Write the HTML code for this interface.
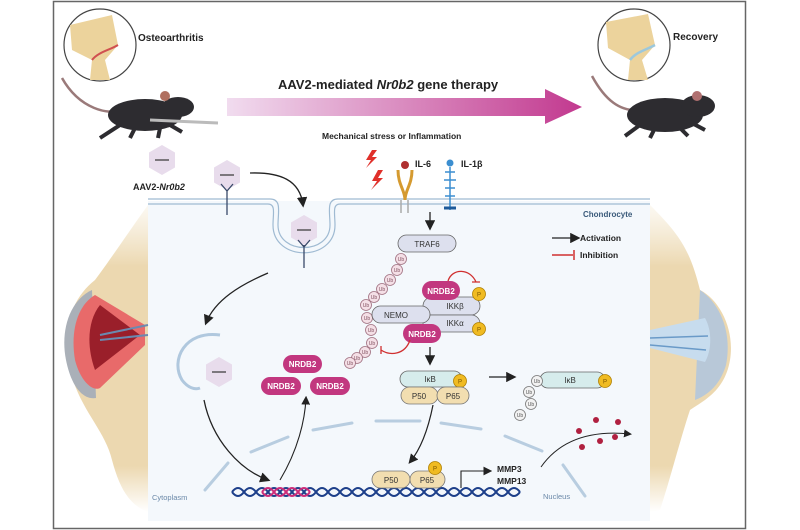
<!DOCTYPE html>
<html><head><meta charset="utf-8"><style>
html,body{margin:0;padding:0;background:#fff;}
svg{display:block;font-family:"Liberation Sans",sans-serif;}
</style></head><body>
<svg width="800" height="530" viewBox="0 0 800 530" xmlns="http://www.w3.org/2000/svg">
<defs>
<linearGradient id="ag" x1="0" x2="1"><stop offset="0" stop-color="#f1dcef"/><stop offset="1" stop-color="#c2398f"/></linearGradient>
<linearGradient id="bl" x1="0" x2="0" y1="0" y2="1"><stop offset="0" stop-color="#efe0c0" stop-opacity="0.2"/><stop offset="0.2" stop-color="#ecd8b0"/><stop offset="0.85" stop-color="#ecd8b0"/><stop offset="1" stop-color="#ecd8b0" stop-opacity="0"/></linearGradient>
<marker id="ah" markerWidth="8" markerHeight="8" refX="6" refY="4" orient="auto"><path d="M0,0 L8,4 L0,8 z" fill="#222"/></marker>
<g id="hex"><polygon points="0,-15 13,-7.5 13,7.5 0,15 -13,7.5 -13,-7.5" fill="#e8dcec"/><line x1="-7" y1="0" x2="7" y2="0" stroke="#333" stroke-width="1.2"/></g>
<g id="ub"><circle r="5.5" fill="#f4dfe6" stroke="#a07080" stroke-width="0.8"/><text y="2" font-size="5" text-anchor="middle" fill="#805060">Ub</text></g>
<g id="ubg"><circle r="5.5" fill="#f2f2f2" stroke="#777" stroke-width="0.8"/><text y="2" font-size="5" text-anchor="middle" fill="#555">Ub</text></g>
<g id="pp"><circle r="6.5" fill="#f0bb22" stroke="#b08000" stroke-width="0.8"/><text y="2.5" font-size="6" text-anchor="middle" fill="#7a5500">P</text></g>
</defs>
<rect x="53.5" y="1.5" width="692" height="527" fill="#fff" stroke="#666" stroke-width="1.5"/>
<!-- cell bg -->
<rect x="148" y="201" width="502" height="320" fill="#f4f8fc"/>
<!-- bones -->
<path d="M148,205 C130,230 110,260 95,280 C70,300 62,330 70,370 C80,410 105,430 112,460 C120,490 130,505 148,512 Z" fill="url(#bl)"/>
<path d="M92,290 C70,300 60,330 66,360 C72,390 85,400 96,398 Z" fill="#aab0b8"/>
<path d="M95,295 C78,305 70,330 75,360 C80,380 92,392 100,388 L145,345 L145,325 Z" fill="#e86a6a"/>
<path d="M100,305 C88,320 86,345 95,370 L140,335 Z" fill="#9a1f2a"/>
<path d="M100,335 L148,325 M100,340 L148,335" stroke="#6a8ab0" stroke-width="2"/>
<path d="M650,205 C680,235 690,250 700,290 C720,300 735,330 730,360 C725,390 705,400 690,410 C680,440 670,480 660,510 L650,512 Z" fill="url(#bl)"/>
<path d="M700,290 C722,305 732,335 726,365 C720,385 708,395 695,400 Z" fill="#b8c8d8"/>
<path d="M650,330 L705,318 C712,330 712,350 705,362 L650,348 Z" fill="#c7dcee"/>
<path d="M650,338 L708,336 M650,345 L706,350" stroke="#6a9ac8" stroke-width="1.5"/>
<!-- membrane -->
<path d="M148,199 H270 C282,199 278,212 278,225 C278,255 330,255 330,225 C330,212 326,199 338,199 H650" fill="none" stroke="#9fbad2" stroke-width="1.2"/>
<path d="M148,204 H268 C276,204 273,214 273,225 C273,262 335,262 335,225 C335,214 332,204 340,204 H650" fill="none" stroke="#9fbad2" stroke-width="1.2"/>
<!-- top circles & mice -->
<circle cx="100" cy="45" r="36" fill="#fff" stroke="#444" stroke-width="1.2"/>
<path d="M70,25 L112,15 L118,45 L105,60 L110,80 L90,80 L92,60 L72,50 Z" fill="#ecd39c"/>
<path d="M92,60 C98,52 110,50 118,45" stroke="#d05050" stroke-width="2" fill="none"/>
<text x="138" y="41" font-size="10" font-weight="bold" fill="#222">Osteoarthritis</text>
<path d="M62,78 C80,110 110,115 120,110" stroke="#9a7a7a" stroke-width="2.5" fill="none"/>
<ellipse cx="145" cy="115" rx="37" ry="16" fill="#2d2c30"/>
<ellipse cx="178" cy="107" rx="16" ry="10" fill="#2d2c30"/>
<circle cx="165" cy="96" r="5" fill="#b07060"/>
<path d="M120,125 L100,138 M135,128 L130,138 M160,128 L158,138 M170,125 L182,132" stroke="#2d2c30" stroke-width="4"/>
<path d="M150,120 L218,123" stroke="#bbb" stroke-width="3"/>
<circle cx="634" cy="45" r="36" fill="#fff" stroke="#444" stroke-width="1.2"/>
<path d="M606,22 L648,14 L655,45 L642,60 L648,80 L628,80 L630,60 L608,48 Z" fill="#ecd39c"/>
<path d="M630,60 C636,52 646,50 655,45" stroke="#9cc8dc" stroke-width="2.5" fill="none"/>
<text x="673" y="40" font-size="10" font-weight="bold" fill="#222">Recovery</text>
<path d="M592,76 C605,100 620,112 640,110" stroke="#9a7a7a" stroke-width="2.5" fill="none"/>
<ellipse cx="665" cy="115" rx="38" ry="17" fill="#2d2c30"/>
<ellipse cx="698" cy="106" rx="17" ry="11" fill="#2d2c30"/>
<circle cx="697" cy="96" r="5" fill="#b07070"/>
<path d="M640,125 L625,136 M655,128 L650,138 M680,128 L688,136 M690,122 L705,130" stroke="#2d2c30" stroke-width="4"/>
<!-- big arrow -->
<text x="278" y="89" font-size="13" font-weight="bold" fill="#222">AAV2-mediated <tspan font-style="italic">Nr0b2</tspan> gene therapy</text>
<polygon points="227,98 545,98 545,89 582,107 545,124 545,116 227,116" fill="url(#ag)"/>
<text x="322" y="139" font-size="8.5" font-weight="bold" fill="#222">Mechanical stress or Inflammation</text>
<!-- AAV -->
<use href="#hex" x="162" y="160"/>
<text x="133" y="190" font-size="9" font-weight="bold" fill="#222">AAV2-<tspan font-style="italic">Nr0b2</tspan></text>
<use href="#hex" x="227" y="175"/>
<path d="M227,190 V215 M221,184 L227,191 L233,184" stroke="#3a4a6a" stroke-width="1.3" fill="none"/>
<path d="M250,173 C280,172 300,180 303,205" stroke="#222" stroke-width="1.3" fill="none" marker-end="url(#ah)"/>
<use href="#hex" x="304" y="230"/>
<path d="M304,245 V268 M298,240 L304,247 L310,240" stroke="#3a4a6a" stroke-width="1.3" fill="none"/>
<path d="M268,273 C240,285 215,300 206,323" stroke="#222" stroke-width="1.3" fill="none" marker-end="url(#ah)"/>
<path d="M220,335 C185,330 170,360 182,380 C188,388 195,390 200,388" stroke="#b0c8de" stroke-width="3" fill="none"/>
<use href="#hex" x="219" y="372"/>
<path d="M204,400 C212,440 240,470 268,480" stroke="#222" stroke-width="1.3" fill="none" marker-end="url(#ah)"/>
<path d="M280,480 C298,450 305,420 306,398" stroke="#222" stroke-width="1.1" fill="none" marker-end="url(#ah)"/>
<!-- NRDB2 free -->
<g font-size="8" fill="#fff" text-anchor="middle" font-weight="bold">
<rect x="283" y="355" width="39" height="18" rx="9" fill="#c2377f"/><text x="302.5" y="367">NRDB2</text>
<rect x="261" y="377" width="40" height="18" rx="9" fill="#c2377f"/><text x="281" y="389">NRDB2</text>
<rect x="310" y="377" width="40" height="18" rx="9" fill="#c2377f"/><text x="330" y="389">NRDB2</text>
</g>
<!-- nucleus membrane dashes -->
<g stroke="#b8cde0" stroke-width="3" fill="none" stroke-linecap="round">
<path d="M205,490 L228,463"/><path d="M251,452 L288,437"/><path d="M313,430 L352,423"/><path d="M376,421 L420,421"/><path d="M441,423 L481,429"/><path d="M505,436 L542,451"/><path d="M563,465 L585,496"/>
</g>
<!-- receptors -->
<g fill="#e0302a"><path d="M372,150 L366,160 L371,160 L366,168 L377,157 L372,157 L377,150 Z"/><path d="M378,170 L372,181 L377,181 L371,190 L383,178 L378,178 L383,170 Z"/></g>
<path d="M398,170 C398,185 405,190 405,200 M412,170 C412,185 405,190 405,200" stroke="#d59a30" stroke-width="3" fill="none"/>
<path d="M401,200 V213 M408,200 V213" stroke="#aaa" stroke-width="1.5"/>
<circle cx="405" cy="165" r="4" fill="#b03030"/>
<text x="415" y="167" font-size="9" font-weight="bold" fill="#222">IL-6</text>
<circle cx="450" cy="163" r="3.5" fill="#3b8ed0"/>
<path d="M450,167 V210 M445,172 h10 M444,180 h12 M445,188 h10 M445,196 h10" stroke="#3b8ed0" stroke-width="1.5" fill="none"/>
<path d="M444,208 h12" stroke="#1d5a9a" stroke-width="3"/>
<text x="461" y="167" font-size="9" font-weight="bold" fill="#222">IL-1β</text>
<text x="583" y="217" font-size="8" font-weight="bold" fill="#3a5a7a">Chondrocyte</text>
<line x1="552" y1="238" x2="578" y2="238" stroke="#222" stroke-width="1.3" marker-end="url(#ah)"/>
<text x="580" y="241" font-size="8.5" font-weight="bold" fill="#222">Activation</text>
<path d="M552,255 H573 M574,250 V260" stroke="#d03030" stroke-width="1.5"/>
<text x="580" y="258" font-size="8.5" font-weight="bold" fill="#222">Inhibition</text>
<line x1="430" y1="212" x2="430" y2="228" stroke="#222" stroke-width="1.3" marker-end="url(#ah)"/>
<!-- TRAF6 & Ub chain -->
<rect x="398" y="235" width="58" height="17" rx="8.5" fill="#dde0ee" stroke="#666" stroke-width="0.8"/>
<text x="427" y="247" font-size="8" text-anchor="middle" fill="#333">TRAF6</text>
<use href="#ub" x="401" y="259"/><use href="#ub" x="397" y="270"/><use href="#ub" x="390" y="280"/><use href="#ub" x="382" y="289"/><use href="#ub" x="374" y="297"/><use href="#ub" x="366" y="305"/><use href="#ub" x="367" y="318"/><use href="#ub" x="371" y="330"/><use href="#ub" x="372" y="343"/><use href="#ub" x="365" y="352"/><use href="#ub" x="357" y="358"/><use href="#ub" x="350" y="363"/>
<!-- IKK complex -->
<rect x="423" y="297" width="57" height="18" rx="9" fill="#dde0ee" stroke="#666" stroke-width="0.8"/>
<text x="455" y="309" font-size="8" text-anchor="middle" fill="#333">IKKβ</text>
<rect x="423" y="315" width="57" height="17" rx="8.5" fill="#dde0ee" stroke="#666" stroke-width="0.8"/>
<text x="455" y="326" font-size="8" text-anchor="middle" fill="#333">IKKα</text>
<rect x="372" y="306" width="58" height="17" rx="8.5" fill="#dde0ee" stroke="#666" stroke-width="0.8"/>
<text x="396" y="318" font-size="8" text-anchor="middle" fill="#333">NEMO</text>
<use href="#pp" x="479" y="294"/><use href="#pp" x="479" y="329"/>
<g font-size="8" fill="#fff" text-anchor="middle" font-weight="bold">
<rect x="422" y="281" width="38" height="19" rx="9.5" fill="#c2377f"/><text x="441" y="294">NRDB2</text>
<rect x="403" y="324" width="38" height="19" rx="9.5" fill="#c2377f"/><text x="422" y="337">NRDB2</text>
</g>
<path d="M448,281 C452,268 470,268 476,282 M472,282 h8" stroke="#d03030" stroke-width="1.3" fill="none"/>
<path d="M410,340 C405,355 390,356 381,350 M381,346 v8" stroke="#d03030" stroke-width="1.3" fill="none"/>
<line x1="430" y1="347" x2="430" y2="363" stroke="#222" stroke-width="1.3" marker-end="url(#ah)"/>
<!-- IkB complex -->
<rect x="400" y="371" width="62" height="16" rx="8" fill="#d6ecec" stroke="#666" stroke-width="0.8"/>
<text x="430" y="382" font-size="8" text-anchor="middle" fill="#333">IκB</text>
<use href="#pp" x="460" y="381"/>
<rect x="401" y="387" width="37" height="17" rx="8.5" fill="#f2deb0" stroke="#777" stroke-width="0.8"/>
<text x="419" y="399" font-size="8" text-anchor="middle" fill="#333">P50</text>
<rect x="437" y="387" width="32" height="17" rx="8.5" fill="#f2deb0" stroke="#777" stroke-width="0.8"/>
<text x="453" y="399" font-size="8" text-anchor="middle" fill="#333">P65</text>
<line x1="489" y1="377" x2="514" y2="377" stroke="#222" stroke-width="1.3" marker-end="url(#ah)"/>
<rect x="540" y="372" width="65" height="16" rx="8" fill="#d6ecec" stroke="#666" stroke-width="0.8"/>
<text x="570" y="383" font-size="8" text-anchor="middle" fill="#333">IκB</text>
<use href="#pp" x="605" y="381"/>
<use href="#ubg" x="537" y="381"/><use href="#ubg" x="529" y="392"/><use href="#ubg" x="531" y="404"/><use href="#ubg" x="520" y="415"/>
<path d="M433,405 C428,430 420,450 410,462" stroke="#222" stroke-width="1.2" fill="none" marker-end="url(#ah)"/>
<!-- DNA -->
<g fill="none" stroke-width="2">
<path d="M232,492 q6,-8 12,0 t12,0 t12,0 t12,0 t12,0 t12,0 t12,0 t12,0 t12,0 t12,0 t12,0 t12,0 t12,0 t12,0 t12,0 t12,0 t12,0 t12,0 t12,0 t12,0 t12,0 t12,0 t12,0 t12,0" stroke="#1d3f8a"/>
<path d="M232,492 q6,8 12,0 t12,0 t12,0 t12,0 t12,0 t12,0 t12,0 t12,0 t12,0 t12,0 t12,0 t12,0 t12,0 t12,0 t12,0 t12,0 t12,0 t12,0 t12,0 t12,0 t12,0 t12,0 t12,0 t12,0" stroke="#1d3f8a"/>
<path d="M262,492 q6,-8 12,0 t12,0 t12,0 t12,0" stroke="#cc2d7a"/>
<path d="M262,492 q6,8 12,0 t12,0 t12,0 t12,0" stroke="#cc2d7a"/>
</g>
<rect x="372" y="471" width="38" height="17" rx="8.5" fill="#f2deb0" stroke="#777" stroke-width="0.8"/>
<text x="391" y="483" font-size="8" text-anchor="middle" fill="#333">P50</text>
<rect x="410" y="471" width="35" height="17" rx="8.5" fill="#f2deb0" stroke="#777" stroke-width="0.8"/>
<text x="427" y="483" font-size="8" text-anchor="middle" fill="#333">P65</text>
<use href="#pp" x="435" y="468"/>
<path d="M461,488 V471 H490" stroke="#222" stroke-width="1.1" fill="none" marker-end="url(#ah)"/>
<text x="497" y="472" font-size="8.5" font-weight="bold" fill="#222">MMP3</text>
<text x="497" y="484" font-size="8.5" font-weight="bold" fill="#222">MMP13</text>
<path d="M541,467 C560,440 590,430 630,434" stroke="#222" stroke-width="1" fill="none" marker-end="url(#ah)"/>
<g fill="#b02040"><circle cx="579" cy="431" r="3"/><circle cx="596" cy="420" r="3"/><circle cx="618" cy="422" r="3"/><circle cx="582" cy="447" r="3"/><circle cx="600" cy="441" r="3"/><circle cx="615" cy="437" r="3"/></g>
<text x="152" y="500" font-size="7.5" fill="#6a88a8">Cytoplasm</text>
<text x="543" y="499" font-size="7.5" fill="#6a88a8">Nucleus</text>
</svg>
</body></html>
